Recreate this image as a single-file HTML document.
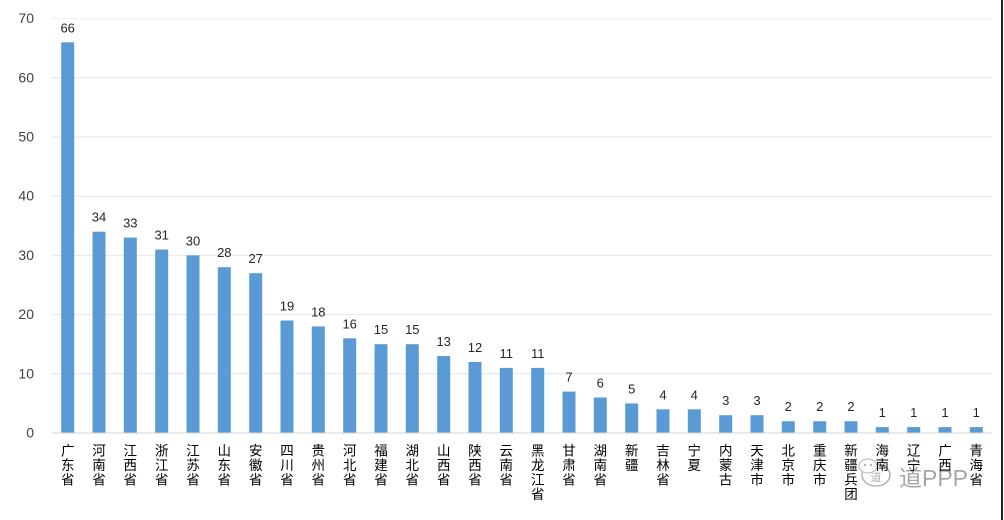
<!DOCTYPE html>
<html><head><meta charset="utf-8"><style>
html,body{margin:0;padding:0;background:#fff;}
svg{display:block;}
.yl{font-family:"Liberation Sans",sans-serif;font-size:14px;fill:#404040;text-anchor:end;}
.dl{font-family:"Liberation Sans",sans-serif;font-size:13px;fill:#262626;text-anchor:middle;}
.cl{font-family:"Liberation Sans","Noto Sans CJK SC",sans-serif;font-size:13.5px;fill:#000;text-anchor:middle;}
</style></head><body>
<svg width="1004" height="520" viewBox="0 0 1004 520" xmlns="http://www.w3.org/2000/svg">
<rect width="1004" height="520" fill="#fff"/>
<g stroke="#e6e6e6" stroke-width="1">
<line x1="52" x2="992" y1="18.6" y2="18.6" stroke="#f0f0f0"/>
<line x1="52" x2="992" y1="77.8" y2="77.8"/>
<line x1="52" x2="992" y1="137" y2="137"/>
<line x1="52" x2="992" y1="196.2" y2="196.2"/>
<line x1="52" x2="992" y1="255.4" y2="255.4"/>
<line x1="52" x2="992" y1="314.6" y2="314.6"/>
<line x1="52" x2="992" y1="373.8" y2="373.8"/>
</g>
<g>
<text class="yl" x="34" y="23">70</text>
<text class="yl" x="34" y="82.5">60</text>
<text class="yl" x="34" y="141.5">50</text>
<text class="yl" x="34" y="200.5">40</text>
<text class="yl" x="34" y="260">30</text>
<text class="yl" x="34" y="319">20</text>
<text class="yl" x="34" y="378.5">10</text>
<text class="yl" x="34" y="437.5">0</text>
</g>
<g fill="#5b9bd5">
<rect x="61.2" y="42.3" width="13" height="390.7"/>
<rect x="92.5" y="231.7" width="13" height="201.3"/>
<rect x="123.8" y="237.6" width="13" height="195.4"/>
<rect x="155.2" y="249.5" width="13" height="183.5"/>
<rect x="186.5" y="255.4" width="13" height="177.6"/>
<rect x="217.8" y="267.2" width="13" height="165.8"/>
<rect x="249.2" y="273.2" width="13" height="159.8"/>
<rect x="280.5" y="320.5" width="13" height="112.5"/>
<rect x="311.8" y="326.4" width="13" height="106.6"/>
<rect x="343.2" y="338.3" width="13" height="94.7"/>
<rect x="374.5" y="344.2" width="13" height="88.8"/>
<rect x="405.8" y="344.2" width="13" height="88.8"/>
<rect x="437.2" y="356" width="13" height="77"/>
<rect x="468.5" y="362" width="13" height="71"/>
<rect x="499.8" y="367.9" width="13" height="65.1"/>
<rect x="531.2" y="367.9" width="13" height="65.1"/>
<rect x="562.5" y="391.6" width="13" height="41.4"/>
<rect x="593.8" y="397.5" width="13" height="35.5"/>
<rect x="625.2" y="403.4" width="13" height="29.6"/>
<rect x="656.5" y="409.3" width="13" height="23.7"/>
<rect x="687.8" y="409.3" width="13" height="23.7"/>
<rect x="719.2" y="415.2" width="13" height="17.8"/>
<rect x="750.5" y="415.2" width="13" height="17.8"/>
<rect x="781.8" y="421.2" width="13" height="11.8"/>
<rect x="813.2" y="421.2" width="13" height="11.8"/>
<rect x="844.5" y="421.2" width="13" height="11.8"/>
<rect x="875.8" y="427.1" width="13" height="5.9"/>
<rect x="907.2" y="427.1" width="13" height="5.9"/>
<rect x="938.5" y="427.1" width="13" height="5.9"/>
<rect x="969.8" y="427.1" width="13" height="5.9"/>
</g>
<line x1="52" x2="992" y1="433" y2="433" stroke="#d4d4d4" stroke-width="1"/>
<g>
<text class="dl" x="67.7" y="32.3">66</text>
<text class="dl" x="99" y="221.7">34</text>
<text class="dl" x="130.3" y="227.6">33</text>
<text class="dl" x="161.7" y="239.5">31</text>
<text class="dl" x="193" y="245.4">30</text>
<text class="dl" x="224.3" y="257.2">28</text>
<text class="dl" x="255.7" y="263.2">27</text>
<text class="dl" x="287" y="310.5">19</text>
<text class="dl" x="318.3" y="316.4">18</text>
<text class="dl" x="349.7" y="328.3">16</text>
<text class="dl" x="381" y="334.2">15</text>
<text class="dl" x="412.3" y="334.2">15</text>
<text class="dl" x="443.7" y="346">13</text>
<text class="dl" x="475" y="352">12</text>
<text class="dl" x="506.3" y="357.9">11</text>
<text class="dl" x="537.7" y="357.9">11</text>
<text class="dl" x="569" y="381.6">7</text>
<text class="dl" x="600.3" y="387.5">6</text>
<text class="dl" x="631.7" y="393.4">5</text>
<text class="dl" x="663" y="399.3">4</text>
<text class="dl" x="694.3" y="399.3">4</text>
<text class="dl" x="725.7" y="405.2">3</text>
<text class="dl" x="757" y="405.2">3</text>
<text class="dl" x="788.3" y="411.2">2</text>
<text class="dl" x="819.7" y="411.2">2</text>
<text class="dl" x="851" y="411.2">2</text>
<text class="dl" x="882.3" y="417.1">1</text>
<text class="dl" x="913.7" y="417.1">1</text>
<text class="dl" x="945" y="417.1">1</text>
<text class="dl" x="976.3" y="417.1">1</text>
</g>
<!-- watermark -->
<g opacity="0.75">
<ellipse cx="876" cy="475" rx="14" ry="11" fill="none" stroke="#999" stroke-width="1.5"/>
<ellipse cx="868" cy="466" rx="9" ry="7" fill="#fff" stroke="#aaa" stroke-width="1.2"/>
<circle cx="865" cy="465" r="1.2" fill="#999"/>
<circle cx="871" cy="465" r="1.2" fill="#999"/>
<text x="876" y="481" font-family="Liberation Sans, Noto Sans CJK SC, sans-serif" font-size="11" fill="#999" text-anchor="middle">道</text>
<text x="899" y="486" font-family="Liberation Sans, Noto Sans CJK SC, sans-serif" font-size="23" fill="#888">道PPP</text>
</g>
<g class="cl">
<text class="cl" x="67.7" y="455.5">广<tspan x="67.7" dy="14.5">东</tspan><tspan x="67.7" dy="14.5">省</tspan></text>
<text class="cl" x="99" y="455.5">河<tspan x="99" dy="14.5">南</tspan><tspan x="99" dy="14.5">省</tspan></text>
<text class="cl" x="130.3" y="455.5">江<tspan x="130.3" dy="14.5">西</tspan><tspan x="130.3" dy="14.5">省</tspan></text>
<text class="cl" x="161.7" y="455.5">浙<tspan x="161.7" dy="14.5">江</tspan><tspan x="161.7" dy="14.5">省</tspan></text>
<text class="cl" x="193" y="455.5">江<tspan x="193" dy="14.5">苏</tspan><tspan x="193" dy="14.5">省</tspan></text>
<text class="cl" x="224.3" y="455.5">山<tspan x="224.3" dy="14.5">东</tspan><tspan x="224.3" dy="14.5">省</tspan></text>
<text class="cl" x="255.7" y="455.5">安<tspan x="255.7" dy="14.5">徽</tspan><tspan x="255.7" dy="14.5">省</tspan></text>
<text class="cl" x="287" y="455.5">四<tspan x="287" dy="14.5">川</tspan><tspan x="287" dy="14.5">省</tspan></text>
<text class="cl" x="318.3" y="455.5">贵<tspan x="318.3" dy="14.5">州</tspan><tspan x="318.3" dy="14.5">省</tspan></text>
<text class="cl" x="349.7" y="455.5">河<tspan x="349.7" dy="14.5">北</tspan><tspan x="349.7" dy="14.5">省</tspan></text>
<text class="cl" x="381" y="455.5">福<tspan x="381" dy="14.5">建</tspan><tspan x="381" dy="14.5">省</tspan></text>
<text class="cl" x="412.3" y="455.5">湖<tspan x="412.3" dy="14.5">北</tspan><tspan x="412.3" dy="14.5">省</tspan></text>
<text class="cl" x="443.7" y="455.5">山<tspan x="443.7" dy="14.5">西</tspan><tspan x="443.7" dy="14.5">省</tspan></text>
<text class="cl" x="475" y="455.5">陕<tspan x="475" dy="14.5">西</tspan><tspan x="475" dy="14.5">省</tspan></text>
<text class="cl" x="506.3" y="455.5">云<tspan x="506.3" dy="14.5">南</tspan><tspan x="506.3" dy="14.5">省</tspan></text>
<text class="cl" x="537.7" y="455.5">黑<tspan x="537.7" dy="14.5">龙</tspan><tspan x="537.7" dy="14.5">江</tspan><tspan x="537.7" dy="14.5">省</tspan></text>
<text class="cl" x="569" y="455.5">甘<tspan x="569" dy="14.5">肃</tspan><tspan x="569" dy="14.5">省</tspan></text>
<text class="cl" x="600.3" y="455.5">湖<tspan x="600.3" dy="14.5">南</tspan><tspan x="600.3" dy="14.5">省</tspan></text>
<text class="cl" x="631.7" y="455.5">新<tspan x="631.7" dy="14.5">疆</tspan></text>
<text class="cl" x="663" y="455.5">吉<tspan x="663" dy="14.5">林</tspan><tspan x="663" dy="14.5">省</tspan></text>
<text class="cl" x="694.3" y="455.5">宁<tspan x="694.3" dy="14.5">夏</tspan></text>
<text class="cl" x="725.7" y="455.5">内<tspan x="725.7" dy="14.5">蒙</tspan><tspan x="725.7" dy="14.5">古</tspan></text>
<text class="cl" x="757" y="455.5">天<tspan x="757" dy="14.5">津</tspan><tspan x="757" dy="14.5">市</tspan></text>
<text class="cl" x="788.3" y="455.5">北<tspan x="788.3" dy="14.5">京</tspan><tspan x="788.3" dy="14.5">市</tspan></text>
<text class="cl" x="819.7" y="455.5">重<tspan x="819.7" dy="14.5">庆</tspan><tspan x="819.7" dy="14.5">市</tspan></text>
<text class="cl" x="851" y="455.5">新<tspan x="851" dy="14.5">疆</tspan><tspan x="851" dy="14.5">兵</tspan><tspan x="851" dy="14.5">团</tspan></text>
<text class="cl" x="882.3" y="455.5">海<tspan x="882.3" dy="14.5">南</tspan></text>
<text class="cl" x="913.7" y="455.5">辽<tspan x="913.7" dy="14.5">宁</tspan></text>
<text class="cl" x="945" y="455.5">广<tspan x="945" dy="14.5">西</tspan></text>
<text class="cl" x="976.3" y="455.5">青<tspan x="976.3" dy="14.5">海</tspan><tspan x="976.3" dy="14.5">省</tspan></text>
</g>
<rect x="1001" y="0" width="2" height="520" fill="#222"/>
</svg>
</body></html>
